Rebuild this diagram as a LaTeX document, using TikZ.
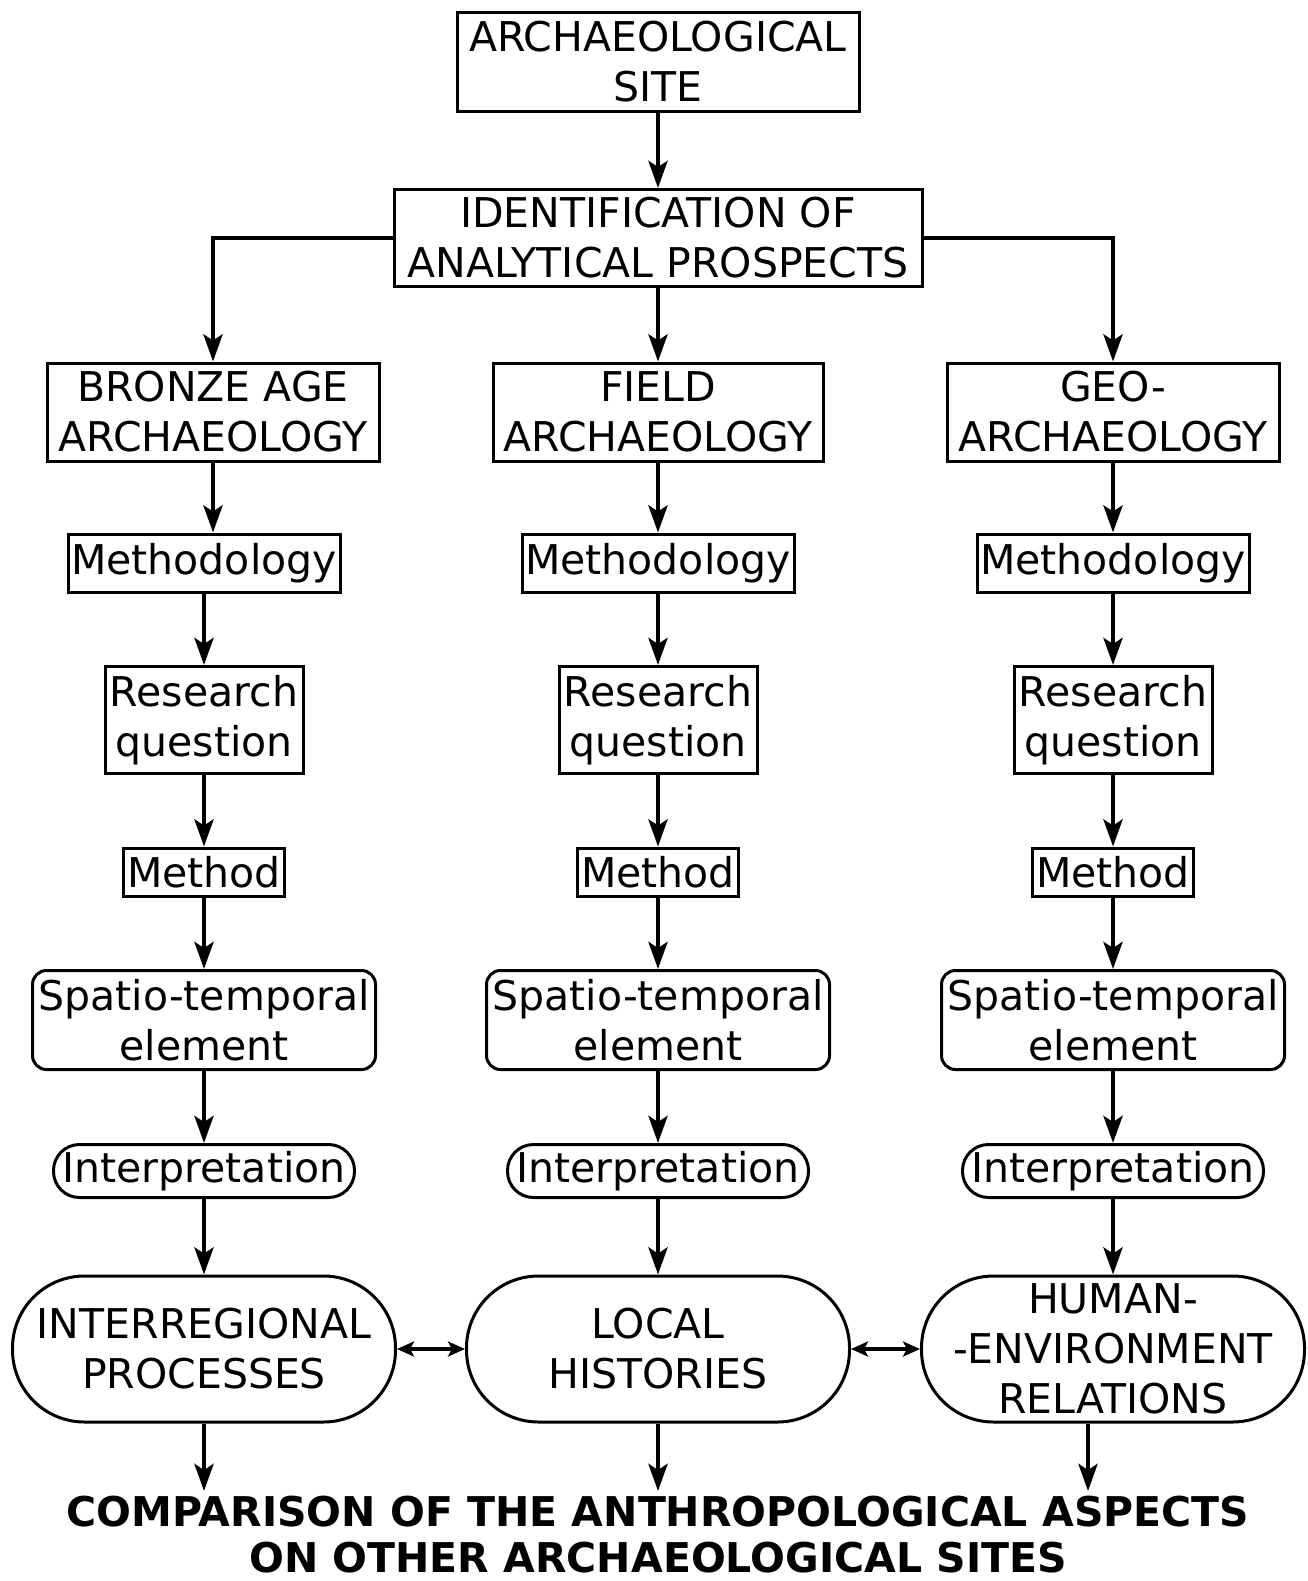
\documentclass[tikz,border=0pt]{standalone}
\usepackage{fontspec}
\setmainfont{DejaVu Sans}
\usetikzlibrary{arrows.meta}

\begin{document}
\begin{tikzpicture}[x=1pt,y=-1pt,inner sep=0pt,line width=3pt,
				box/.style={draw,rectangle,align=center,font=\fontsize{41}{50}\selectfont},
				soft/.style={box,rounded corners=14pt},
				capsule/.style={box,rounded corners=26pt},
				pill/.style={box,rounded corners=72pt,minimum width=383,minimum height=146},
				flow/.style={line width=4.5pt,-{Stealth[length=27pt,width=19pt,inset=6pt]}},
				twoway/.style={line width=4.5pt,{Stealth[length=17pt,width=15pt,inset=4pt]}-{Stealth[length=17pt,width=15pt,inset=4pt]}}]
				
				\useasboundingbox (0,0) rectangle (1307,1581);
				
				% top of the chart
				\node[box,minimum width=402,minimum height=99] (site) at (658,62) {ARCHAEOLOGICAL\\SITE};
				\node[box,minimum width=528,minimum height=97] (ident) at (658,238) {IDENTIFICATION OF\\ANALYTICAL PROSPECTS};
				
				\node[box,minimum width=332,minimum height=98] (bronze) at (213,412) {BRONZE AGE\\ARCHAEOLOGY};
				\node[box,minimum width=330,minimum height=98] (field) at (658,412) {FIELD\\ARCHAEOLOGY};
				\node[box,minimum width=332,minimum height=98] (geo) at (1113,412) {GEO-\\ARCHAEOLOGY};
				
				\draw[flow] (site) -- (ident);
				\draw[flow] (ident) -- (field);
				\draw[flow] (ident.west) -| (bronze.north);
				\draw[flow] (ident.east) -| (geo.north);
				
				% the three columns
				\foreach \c/\x in {1/204,2/658,3/1113}{
					\node[box,minimum width=272,minimum height=58] (meth\c) at (\x,563) {Methodology};
					\node[box,minimum width=198,minimum height=107] (rq\c) at (\x,720) {Research\\question};
					\node[box,minimum width=161,minimum height=48] (mtd\c) at (\x,872) {Method};
					\node[soft,minimum width=343,minimum height=99] (spt\c) at (\x,1020) {Spatio-temporal\\element};
					\node[capsule,minimum width=301,minimum height=53] (int\c) at (\x,1171) {Interpretation};
					\draw[flow] (meth\c) -- (rq\c);
					\draw[flow] (rq\c) -- (mtd\c);
					\draw[flow] (mtd\c) -- (spt\c);
					\draw[flow] (spt\c) -- (int\c);
				}
				
				\draw[flow] (bronze.south) -- (bronze.south |- meth1.north);
				\draw[flow] (field) -- (meth2);
				\draw[flow] (geo.south) -- (geo.south |- meth3.north);
				
				% outcomes
				\node[pill] (inter) at (204,1349) {INTERREGIONAL\\PROCESSES};
				\node[pill] (local) at (658,1349) {LOCAL\\HISTORIES};
				\node[pill] (human) at (1113,1349) {HUMAN-\\-ENVIRONMENT\\RELATIONS};
				
				\draw[flow] (int1) -- (inter);
				\draw[flow] (int2) -- (local);
				\draw[flow] (int3) -- (human);
				\draw[twoway] (inter.east) -- (local.west);
				\draw[twoway] (local.east) -- (human.west);
				
				\node[font=\bfseries\fontsize{41}{46}\selectfont,align=center,anchor=north] (cmp) at (658,1495)
				{COMPARISON OF THE ANTHROPOLOGICAL ASPECTS\\ON OTHER ARCHAEOLOGICAL SITES};
				
				\draw[flow,shorten >=4pt] (inter.south) -- (inter.south |- cmp.north);
				\draw[flow,shorten >=4pt] (local.south) -- (local.south |- cmp.north);
				\draw[flow,shorten >=4pt] ([xshift=-25]human.south) -- ([xshift=-25]human.south |- cmp.north);
				
			\end{tikzpicture}
\end{document}
